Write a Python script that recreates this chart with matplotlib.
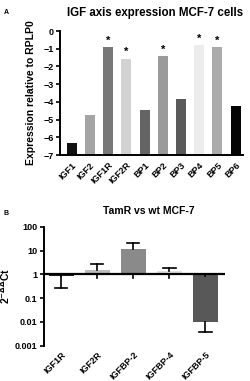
import numpy as np
import matplotlib
matplotlib.use('Agg')
import matplotlib.pyplot as plt

plt.rcParams['font.family'] = ['Liberation Sans', 'DejaVu Sans']
plt.rcParams['font.weight'] = 'bold'
plt.rcParams['axes.titleweight'] = 'bold'
plt.rcParams['axes.labelweight'] = 'bold'
plt.rcParams['mathtext.default'] = 'bf'

# panel A data
genes_a = ['IGF1', 'IGF2', 'IGF1R', 'IGF2R', 'BP1', 'BP2', 'BP3', 'BP4', 'BP5', 'BP6']
expr_a = [-6.3, -4.75, -0.9, -1.55, -4.45, -1.4, -3.85, -0.8, -0.9, -4.25]
sig_a = [False, False, True, True, False, True, False, True, True, False]
colors_a = ['#111111', '#a4a4a4', '#787878', '#d2d2d2', '#646464',
            '#9a9a9a', '#5a5a5a', '#ececec', '#ababab', '#050505']

# panel B data
genes_b = ['IGF1R', 'IGF2R', 'IGFBP-2', 'IGFBP-4', 'IGFBP-5']
fold_b = [0.82, 1.47, 12.0, 1.34, 0.0095]
err_hi_b = [0.28, 2.65, 20.5, 1.9, 0.0036]   # outer end of error bar (capped)
err_lo_b = [0.85, 0.72, 0.72, 0.72, 0.85]    # inner end (short stub, no cap)
colors_b = ['#1e1e1e', '#bdbdbd', '#8a8a8a', '#e0e0e0', '#585858']

fig = plt.figure(figsize=(2.51, 3.81), dpi=100)

# ---- panel A ----
ax = fig.add_axes([0.239, 0.593, 0.729, 0.3255])
x = np.arange(len(genes_a))
base = -7
ax.bar(x, np.array(expr_a) - base, bottom=base, width=0.55, color=colors_a)
for xi, v, s in zip(x, expr_a, sig_a):
    if s:
        ax.annotate('*', (xi, v), xytext=(0, 1), textcoords='offset points',
                    ha='center', va='bottom', fontsize=8)
ax.set_ylim(-7, 0)
ax.set_xlim(-0.64, 9.4)
ax.set_yticks(range(-7, 1))
ax.set_xticks(x)
ax.set_xticklabels(genes_a, rotation=45, ha='right', rotation_mode='anchor')
ax.tick_params(axis='y', labelsize=6.5, length=3, width=1.2, pad=1.5)
ax.tick_params(axis='x', labelsize=6.5, length=0, pad=4)
for s in ['top', 'right']:
    ax.spines[s].set_visible(False)
for s in ['left', 'bottom']:
    ax.spines[s].set_linewidth(1.4)
ax.set_title('IGF axis expression MCF-7 cells', fontsize=8.3, pad=11, x=0.52)
ax.set_ylabel('Expression relative to RPLP0', fontsize=7.5, labelpad=5)
fig.text(0.016, 0.968, 'A', fontsize=5, va='center')

# ---- panel B ----
bx = fig.add_axes([0.175, 0.0927, 0.721, 0.312])
xb = np.arange(len(genes_b))
fold = np.array(fold_b)
bx.bar(xb, fold - 1, bottom=1, width=0.7, color=colors_b)
hi = np.array(err_hi_b)
lo = np.array(err_lo_b)
for xi, f, h, l in zip(xb, fold, hi, lo):
    bx.plot([xi, xi], [f, h], color='black', lw=1.2)
    bx.plot([xi - 0.17, xi + 0.17], [h, h], color='black', lw=1.2)
    bx.plot([xi, xi], [1, l], color='black', lw=1.2)
bx.set_yscale('log')
bx.set_ylim(0.001, 100)
bx.set_xlim(-0.48, 4.54)
bx.axhline(1, color='black', lw=1.6)
bx.set_yticks([0.001, 0.01, 0.1, 1, 10, 100])
bx.set_yticklabels(['0.001', '0.01', '0.1', '1', '10', '100'])
bx.minorticks_off()
bx.set_xticks(xb)
bx.set_xticklabels(genes_b, rotation=45, ha='right', rotation_mode='anchor')
bx.tick_params(axis='y', labelsize=6.5, length=3, width=1.2, pad=1.5)
bx.tick_params(axis='x', labelsize=6.5, length=0, pad=3)
for s in ['top', 'right', 'bottom']:
    bx.spines[s].set_visible(False)
bx.spines['left'].set_linewidth(1.4)
bx.set_title('TamR vs wt MCF-7', fontsize=7.5, pad=9, x=0.58)
bx.set_ylabel(r'2$^{-\Delta\Delta}$Ct', fontsize=7.5, labelpad=2)
fig.text(0.012, 0.44, 'B', fontsize=5, va='center')

fig.savefig('out.png', dpi=100)
